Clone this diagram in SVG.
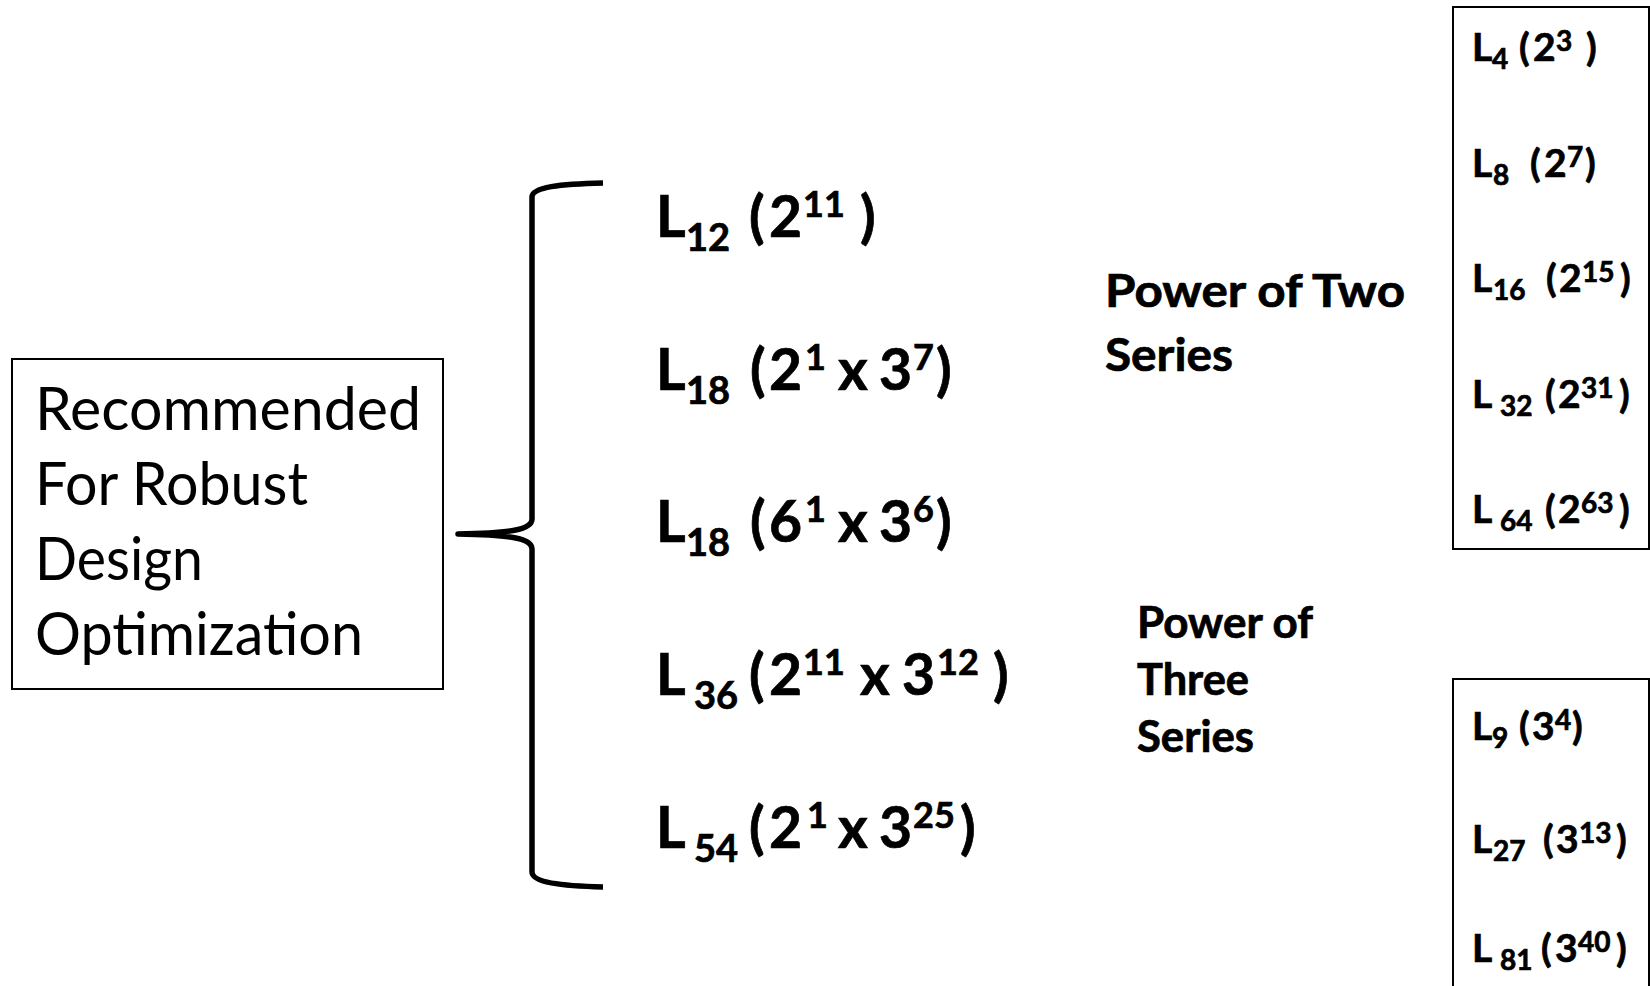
<svg xmlns="http://www.w3.org/2000/svg" width="1650" height="986" viewBox="0 0 1650 986">
<style>
.box{fill:#fff;stroke:#000;stroke-width:2}
.reg{font-family:Lato,"Open Sans","Liberation Sans",sans-serif;font-size:60px;fill:#000}
.b{font-family:Lato,"Open Sans","Liberation Sans",sans-serif;font-weight:bold;fill:#000;stroke:#000;stroke-width:0.7}
.m{font-size:57px}
.ms{font-size:38px}
.mp{font-size:36px}
.r{font-size:39px}
.rs{font-size:28px}
.lab{font-size:45px}
.lab2{font-size:43px}
.brace{fill:none;stroke:#000;stroke-width:5.5;stroke-linecap:butt;stroke-linejoin:round}
</style>
<rect width="1650" height="986" fill="#fff"/>

<g id="recommended">
<rect class="box" x="12" y="359" width="431" height="330"/>
<text class="reg" x="35" y="430" textLength="386" lengthAdjust="spacingAndGlyphs">Recommended</text>
<text class="reg" x="35" y="505" textLength="273" lengthAdjust="spacingAndGlyphs">For Robust</text>
<text class="reg" x="35" y="580" textLength="168" lengthAdjust="spacingAndGlyphs">Design</text>
<text class="reg" x="35" y="655" textLength="328" lengthAdjust="spacingAndGlyphs">Optimization</text>
</g>

<g id="connectors">
<path class="brace" d="M603,183 C560,184 532,187 532,197 L532,519 C532,530 510,533 458,534 C510,535 532,538 532,549 L532,872 C532,882 560,886 603,887"/>
</g>

<g id="l12" class="b">
<text class="m" x="656" y="237">L</text>
<text class="ms" x="686" y="251">12</text>
<text class="m" x="749" y="237">(</text>
<text class="m" x="769" y="237">2</text>
<text class="mp" x="803" y="217">11</text>
<text class="m" x="860" y="237">)</text>
</g>

<g id="l18a" class="b">
<text class="m" x="656" y="390">L</text>
<text class="ms" x="686" y="404">18</text>
<text class="m" x="750" y="390">(</text>
<text class="m" x="769" y="390">2</text>
<text class="mp" x="805" y="370">1</text>
<text class="m" x="838" y="390">x</text>
<text class="m" x="879" y="390">3</text>
<text class="mp" x="913" y="370">7</text>
<text class="m" x="936" y="390">)</text>
</g>

<g id="l18b" class="b">
<text class="m" x="656" y="542">L</text>
<text class="ms" x="686" y="556">18</text>
<text class="m" x="750" y="542">(</text>
<text class="m" x="769" y="542">6</text>
<text class="mp" x="805" y="522">1</text>
<text class="m" x="838" y="542">x</text>
<text class="m" x="879" y="542">3</text>
<text class="mp" x="913" y="522">6</text>
<text class="m" x="936" y="542">)</text>
</g>

<g id="l36" class="b">
<text class="m" x="656" y="695">L</text>
<text class="ms" x="694" y="709">36</text>
<text class="m" x="749" y="695">(</text>
<text class="m" x="769" y="695">2</text>
<text class="mp" x="803" y="675">11</text>
<text class="m" x="860" y="695">x</text>
<text class="m" x="902" y="695">3</text>
<text class="mp" x="937" y="675">12</text>
<text class="m" x="993" y="695">)</text>
</g>

<g id="l54" class="b">
<text class="m" x="656" y="848">L</text>
<text class="ms" x="694" y="862">54</text>
<text class="m" x="749" y="848">(</text>
<text class="m" x="769" y="848">2</text>
<text class="mp" x="807" y="828">1</text>
<text class="m" x="838" y="848">x</text>
<text class="m" x="879" y="848">3</text>
<text class="mp" x="913" y="828">25</text>
<text class="m" x="960" y="848">)</text>
</g>

<g id="power-two-label" class="b">
<text class="lab" x="1105" y="307" textLength="300" lengthAdjust="spacingAndGlyphs">Power of Two</text>
<text class="lab" x="1105" y="371" textLength="128" lengthAdjust="spacingAndGlyphs">Series</text>
</g>

<g id="power-three-label" class="b">
<text class="lab2" x="1137" y="638" textLength="176" lengthAdjust="spacingAndGlyphs">Power of</text>
<text class="lab2" x="1137" y="695" textLength="112" lengthAdjust="spacingAndGlyphs">Three</text>
<text class="lab2" x="1137" y="752" textLength="117" lengthAdjust="spacingAndGlyphs">Series</text>
</g>

<g id="power-two-box" class="b">
<rect class="box" x="1453" y="7" width="196" height="542"/>
<text class="r" x="1472" y="61">L</text>
<text class="rs" x="1492" y="69">4</text>
<text class="r" x="1519" y="61">(</text>
<text class="r" x="1533" y="61">2</text>
<text class="rs" x="1556" y="51">3</text>
<text class="r" x="1586" y="61">)</text>

<text class="r" x="1472" y="177">L</text>
<text class="rs" x="1493" y="185">8</text>
<text class="r" x="1530" y="177">(</text>
<text class="r" x="1544" y="177">2</text>
<text class="rs" x="1567" y="167">7</text>
<text class="r" x="1585" y="177">)</text>

<text class="r" x="1472" y="292">L</text>
<text class="rs" x="1493" y="300">16</text>
<text class="r" x="1546" y="292">(</text>
<text class="r" x="1559" y="292">2</text>
<text class="rs" x="1582" y="282">15</text>
<text class="r" x="1620" y="292">)</text>

<text class="r" x="1472" y="408">L</text>
<text class="rs" x="1500" y="416">32</text>
<text class="r" x="1545" y="408">(</text>
<text class="r" x="1558" y="408">2</text>
<text class="rs" x="1581" y="398">31</text>
<text class="r" x="1619" y="408">)</text>

<text class="r" x="1472" y="523">L</text>
<text class="rs" x="1500" y="531">64</text>
<text class="r" x="1545" y="523">(</text>
<text class="r" x="1558" y="523">2</text>
<text class="rs" x="1581" y="513">63</text>
<text class="r" x="1619" y="523">)</text>
</g>

<g id="power-three-box" class="b">
<rect class="box" x="1453" y="679" width="196" height="330"/>
<text class="r" x="1472" y="740">L</text>
<text class="rs" x="1492" y="748">9</text>
<text class="r" x="1519" y="740">(</text>
<text class="r" x="1532" y="740">3</text>
<text class="rs" x="1555" y="730">4</text>
<text class="r" x="1572" y="740">)</text>

<text class="r" x="1472" y="853">L</text>
<text class="rs" x="1493" y="861">27</text>
<text class="r" x="1543" y="853">(</text>
<text class="r" x="1556" y="853">3</text>
<text class="rs" x="1579" y="843">13</text>
<text class="r" x="1616" y="853">)</text>

<text class="r" x="1472" y="962">L</text>
<text class="rs" x="1500" y="970">81</text>
<text class="r" x="1541" y="962">(</text>
<text class="r" x="1555" y="962">3</text>
<text class="rs" x="1578" y="952">40</text>
<text class="r" x="1616" y="962">)</text>
</g>
</svg>
